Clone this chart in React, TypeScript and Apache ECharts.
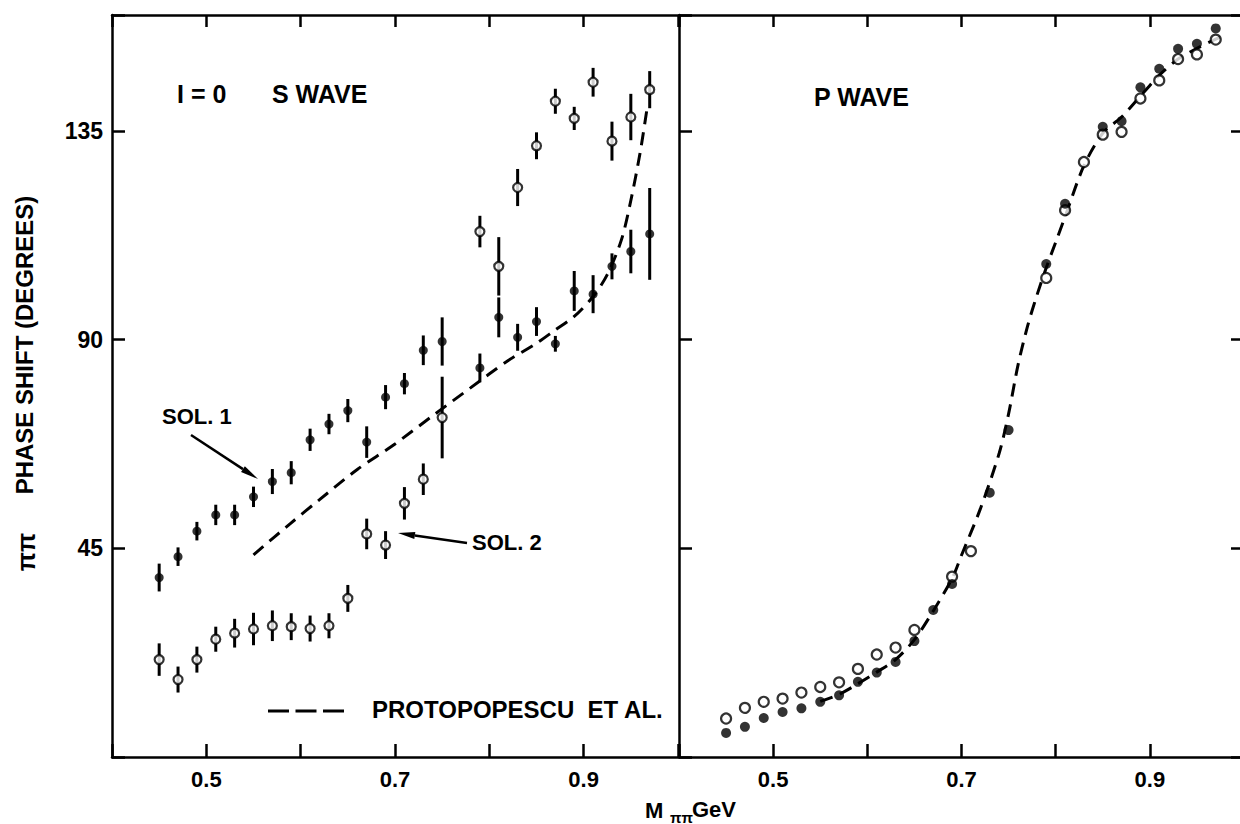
import React, { useEffect, useRef } from "react";
import * as echarts from "echarts";

// ---------- data ----------
const sol1X = [0.45, 0.47, 0.49, 0.51, 0.53, 0.55, 0.57, 0.59, 0.61, 0.63, 0.65, 0.67, 0.69, 0.71, 0.73, 0.75, 0.79, 0.81, 0.83, 0.85, 0.87, 0.89, 0.91, 0.93, 0.95, 0.97];
const sol1Y = [38.7, 43.2, 48.7, 52.2, 52.2, 56.1, 59.4, 61.3, 68.4, 71.8, 74.7, 67.9, 77.6, 80.5, 87.7, 89.6, 83.9, 94.8, 90.5, 93.9, 89.1, 100.5, 99.8, 105.8, 109.0, 112.8];
const sol1Err = [3.0, 2.0, 2.0, 2.2, 2.2, 2.2, 2.7, 2.5, 2.4, 2.2, 2.5, 3.4, 2.6, 2.3, 3.2, 5.2, 3.1, 4.3, 2.9, 3.1, 1.7, 4.3, 4.1, 2.8, 4.7, 9.9];

const sol2X = [0.45, 0.47, 0.49, 0.51, 0.53, 0.55, 0.57, 0.59, 0.61, 0.63, 0.65, 0.67, 0.69, 0.71, 0.73, 0.75, 0.79, 0.81, 0.83, 0.85, 0.87, 0.89, 0.91, 0.93, 0.95, 0.97];
const sol2Y = [21.0, 16.7, 21.0, 25.4, 26.7, 27.6, 28.3, 28.1, 27.7, 28.3, 34.2, 48.1, 45.7, 54.7, 59.9, 73.2, 113.3, 105.8, 122.8, 131.8, 141.4, 137.7, 145.5, 132.8, 138.0, 143.9];
const sol2Err = [3.5, 2.8, 2.8, 2.7, 3.1, 3.5, 3.3, 2.9, 2.8, 2.7, 2.9, 3.3, 3.0, 3.5, 3.4, 8.8, 3.4, 6.3, 4.0, 2.9, 2.7, 2.5, 3.1, 4.2, 5.0, 4.0];

const sCurveX = [0.55, 0.59, 0.62, 0.66, 0.70, 0.74, 0.78, 0.82, 0.85, 0.87, 0.89, 0.91, 0.925, 0.94, 0.95, 0.96, 0.967];
const sCurveY = [43.6, 50.5, 55.5, 62, 67.5, 73.6, 79.6, 85.5, 89.2, 92.1, 95, 99.3, 104, 111.5, 120, 130.5, 139.6];

const pSolidX = [0.45, 0.47, 0.49, 0.51, 0.53, 0.55, 0.57, 0.59, 0.61, 0.63, 0.65, 0.67, 0.69, 0.73, 0.75, 0.79, 0.81, 0.85, 0.87, 0.89, 0.91, 0.93, 0.95, 0.97];
const pSolidY = [5.2, 6.5, 8.4, 9.7, 10.5, 11.9, 13.3, 16.2, 18.2, 20.5, 25.0, 31.7, 37.3, 57.0, 70.5, 106.3, 119.3, 135.9, 137.1, 144.4, 148.4, 152.7, 153.8, 157.1];
const pOpenX = [0.45, 0.47, 0.49, 0.51, 0.53, 0.55, 0.57, 0.59, 0.61, 0.63, 0.65, 0.69, 0.71, 0.79, 0.81, 0.83, 0.85, 0.87, 0.89, 0.91, 0.93, 0.95, 0.97];
const pOpenY = [8.3, 10.6, 11.9, 12.6, 13.9, 15.1, 16.1, 19.0, 22.1, 23.6, 27.4, 38.9, 44.4, 103.3, 117.9, 128.3, 134.2, 134.8, 142.0, 145.9, 150.5, 151.5, 154.7];

const pCurveX = [0.55, 0.57, 0.59, 0.61, 0.63, 0.65, 0.67, 0.69, 0.70, 0.72, 0.74, 0.75, 0.76, 0.77, 0.78, 0.79, 0.80, 0.81, 0.83, 0.85, 0.87, 0.89, 0.91, 0.93, 0.95, 0.97, 0.982];
const pCurveY = [12, 13.5, 15.8, 18.3, 21, 25.3, 31.5, 38.5, 43.5, 53.5, 65.5, 74, 84.5, 92.8, 99.5, 105.5, 111, 116.5, 127.5, 134.5, 138, 142.5, 147, 150.5, 152.8, 154.8, 155.8];

const xLabels = [0.5, 0.7, 0.9];
const yLabels = [45, 90, 135];

// ---------- styles ----------
const FONT = '"Liberation Sans", Arial, sans-serif';
const INK = "#000";

function arrow(x1: number, y1: number, x2: number, y2: number, headLen: number, headW: number) {
  const dx = x2 - x1, dy = y2 - y1;
  const L = Math.hypot(dx, dy);
  const ux = dx / L, uy = dy / L;
  const bx = x2 - ux * headLen, by = y2 - uy * headLen;
  const px = -uy * headW, py = ux * headW;
  return [
    { type: "line", shape: { x1, y1, x2: bx, y2: by }, style: { stroke: INK, lineWidth: 2.5 } },
    { type: "polygon", shape: { points: [[x2, y2], [bx + px, by + py], [bx - px, by - py]] }, style: { fill: INK } },
  ];
}

function txt(text: string, x: number, y: number, size: number, align = "left", extra: any = {}) {
  return {
    type: "text",
    x,
    y,
    ...extra,
    style: {
      text,
      fill: INK,
      font: `bold ${size}px ${FONT}`,
      textAlign: align,
      align,
      textVerticalAlign: "middle",
      verticalAlign: "middle",
    },
  };
}

const errRender = (params: any, api: any) => {
  const lo = api.coord([api.value(0), api.value(1)]);
  const hi = api.coord([api.value(0), api.value(2)]);
  return {
    type: "line",
    shape: { x1: lo[0], y1: lo[1], x2: hi[0], y2: hi[1] },
    style: { stroke: INK, lineWidth: 3 },
  };
};

export default function App() {
  const ref = useRef<HTMLDivElement>(null);
  useEffect(() => {
    if (!ref.current) return;
    const chart = echarts.init(ref.current, undefined, { renderer: "svg" });
    const axisLine = { show: true, onZero: false, lineStyle: { color: INK, width: 2.5 } };
    const tick = (len: number) => ({ show: true, inside: true, length: len, lineStyle: { color: INK, width: 2.5 } });
    const xFmt = (v: number) => {
      const r = Math.round(v * 10) / 10;
      return xLabels.includes(r) ? r.toFixed(1) : "";
    };
    const yFmt = (v: number) => (yLabels.includes(Math.round(v)) ? String(Math.round(v)) : "");
    const xLab = { show: true, margin: 11, formatter: xFmt, color: INK, fontSize: 22, fontWeight: "bold", fontFamily: FONT };
    const noLab = { show: false };
    const xBase = { type: "value", min: 0.4, max: 1.0, interval: 0.1, axisLine, splitLine: { show: false } };
    const yBase = { type: "value", min: 0, max: 160, interval: 45, splitLine: { show: false } };

    const line = (xs: number[], ys: number[], gi: number) => ({
      type: "line",
      xAxisIndex: gi * 2,
      yAxisIndex: gi * 2,
      data: xs.map((x, i) => [x, ys[i]]),
      showSymbol: false,
      symbol: "none",
      smooth: 0.3,
      silent: true,
      lineStyle: { color: INK, width: 3, type: [13, 8] },
      z: 1,
    });
    const errs = (xs: number[], ys: number[], es: number[]) => ({
      type: "custom",
      xAxisIndex: 0,
      yAxisIndex: 0,
      data: xs.map((x, i) => [x, ys[i] - es[i], ys[i] + es[i]]),
      encode: { x: 0, y: [1, 2] },
      renderItem: errRender,
      silent: true,
      z: 2,
    });
    const scat = (xs: number[], ys: number[], gi: number, open: boolean, size: number) => ({
      type: "scatter",
      xAxisIndex: gi * 2,
      yAxisIndex: gi * 2,
      data: xs.map((x, i) => [x, ys[i]]),
      symbol: "circle",
      symbolSize: size,
      silent: true,
      itemStyle: open ? { color: "#fff", borderColor: INK, borderWidth: 2.2 } : { color: INK },
      z: open ? 3 : 4,
    });

    chart.setOption({
      animation: false,
      backgroundColor: "#fff",
      grid: [
        { left: 112, top: 15, width: 566, height: 742, outerBoundsMode: "none", containLabel: false },
        { left: 679, top: 15, width: 565, height: 742, outerBoundsMode: "none", containLabel: false },
      ],
      xAxis: [
        { ...xBase, gridIndex: 0, position: "bottom", axisTick: tick(13), axisLabel: xLab },
        { ...xBase, gridIndex: 0, position: "top", axisTick: tick(12), axisLabel: noLab },
        { ...xBase, gridIndex: 1, position: "bottom", axisTick: tick(13), axisLabel: xLab },
        { ...xBase, gridIndex: 1, position: "top", axisTick: tick(12), axisLabel: noLab },
      ],
      yAxis: [
        {
          ...yBase, gridIndex: 0, position: "left", axisLine, axisTick: tick(13),
          axisLabel: { show: true, margin: 9, formatter: yFmt, color: INK, fontSize: 23, fontWeight: "bold", fontFamily: FONT },
        },
        { ...yBase, gridIndex: 0, position: "right", axisLine: { show: false }, axisTick: { show: false }, axisLabel: noLab },
        { ...yBase, gridIndex: 1, position: "left", axisLine, axisTick: tick(13), axisLabel: noLab },
        { ...yBase, gridIndex: 1, position: "right", axisLine, axisTick: tick(13), axisLabel: noLab },
      ],
      series: [
        line(sCurveX, sCurveY, 0),
        errs(sol1X, sol1Y, sol1Err),
        errs(sol2X, sol2Y, sol2Err),
        scat(sol2X, sol2Y, 0, true, 9),
        scat(sol1X, sol1Y, 0, false, 9),
        line(pCurveX, pCurveY, 1),
        scat(pOpenX, pOpenY, 1, true, 10),
        scat(pSolidX, pSolidY, 1, false, 10),
      ],
      graphic: [
        txt("I = 0", 177, 94, 25),
        txt("S WAVE", 272, 94, 25),
        txt("P WAVE", 814, 97, 25),
        txt("SOL. 1", 162, 416, 22),
        txt("SOL. 2", 472, 542, 22),
        txt("PROTOPOPESCU  ET AL.", 372, 709, 24),
        {
          type: "line",
          shape: { x1: 268, y1: 711, x2: 344, y2: 711 },
          style: { stroke: INK, lineWidth: 3, lineDash: [21, 6.5] },
        },
        ...arrow(191, 435, 258, 479, 18, 3.5),
        ...arrow(467, 543, 398, 533, 17, 3.5),
        txt("PHASE SHIFT (DEGREES)", 24, 345, 24, "center", { rotation: Math.PI / 2 }),
        txt("ππ", 26, 552, 25, "center", { rotation: Math.PI / 2 }),
        txt("M", 645, 810, 22),
        txt("ππ", 670, 817, 15),
        txt("GeV", 692, 809, 22),
      ],
    });
    return () => chart.dispose();
  }, []);
  return (
    <div
      ref={ref}
      style={{ position: "fixed", left: 0, top: 0, width: 1240, height: 824, background: "#fff" }}
    />
  );
}
